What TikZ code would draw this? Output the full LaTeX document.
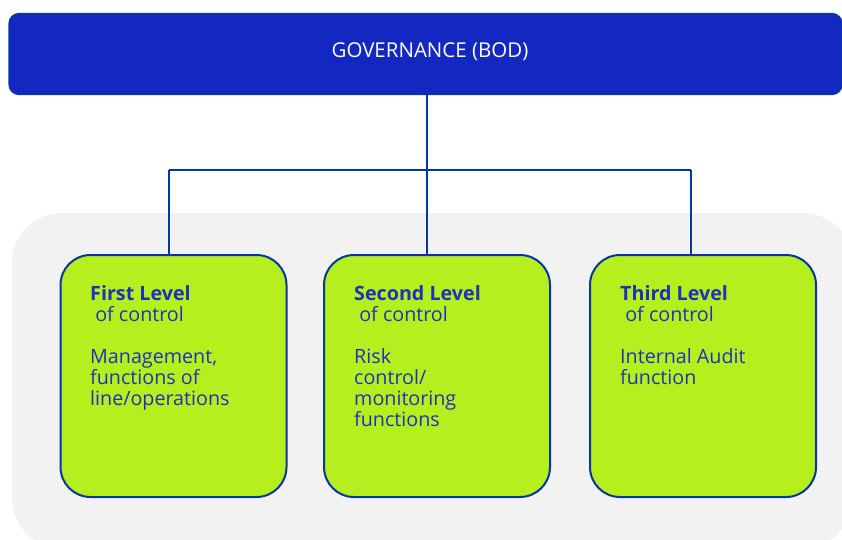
\documentclass[tikz,border=0pt]{standalone}
\usepackage{fontspec}
\setmainfont{Open Sans}
\definecolor{ingblue}{HTML}{1228C0}
\definecolor{edgeblue}{HTML}{0636A4}
\definecolor{txtblue}{HTML}{1E32B8}
\definecolor{lime}{HTML}{B5F01E}
\definecolor{panel}{HTML}{F2F2F3}
\begin{document}
\begin{tikzpicture}[x=1pt,y=-1pt,
  govbar/.style={draw=edgeblue,line width=1.2pt,fill=ingblue,rounded corners=10pt},
  levelbox/.style={draw=edgeblue,line width=2pt,fill=lime,rounded corners=30pt,
    minimum width=226pt,minimum height=242pt,inner sep=0pt},
  leveltext/.style={anchor=north west,align=left,text=txtblue,inner sep=0pt,
    font=\fontsize{19.7}{21}\selectfont},
  link/.style={draw=edgeblue,line width=2.2pt}]
\useasboundingbox (0,0) rectangle (842,539);
% light panel behind the three levels
\fill[panel,rounded corners=50pt] (12,213) rectangle (853,548);
% governance bar
\node[govbar,minimum width=833pt,minimum height=81pt,inner sep=0pt] (gov) at (425.5,54) {};
\node[text=white,font=\fontsize{20.5}{22}\selectfont] (govtxt) at (430,52) {GOVERNANCE (BOD)};
% level boxes
\node[levelbox] (b1) at (173.5,376) {};
\node[levelbox] (b2) at (437,376) {};
\node[levelbox] (b3) at (703,376) {};
\node[leveltext] (t1) at (90,285) {\textbf{First Level}\\ \ of control\\[21pt]Management,\\functions of\\line/operations};
\node[leveltext] (t2) at (354,285) {\textbf{Second Level}\\ \ of control\\[21pt]Risk\\control/\\monitoring\\functions};
\node[leveltext] (t3) at (620,285) {\textbf{Third Level}\\ \ of control\\[21pt]Internal Audit\\function};
% connectors
\coordinate (hl) at (169,170);
\coordinate (hm) at (427,170);
\coordinate (hr) at (691,170);
\draw[link] (hl) -- (hr);
\draw[link] (gov.south -| hm) -- (hm |- b2.north);
\draw[link] (hl) -- (hl |- b1.north);
\draw[link] (hr) -- (hr |- b3.north);
\end{tikzpicture}
\end{document}
